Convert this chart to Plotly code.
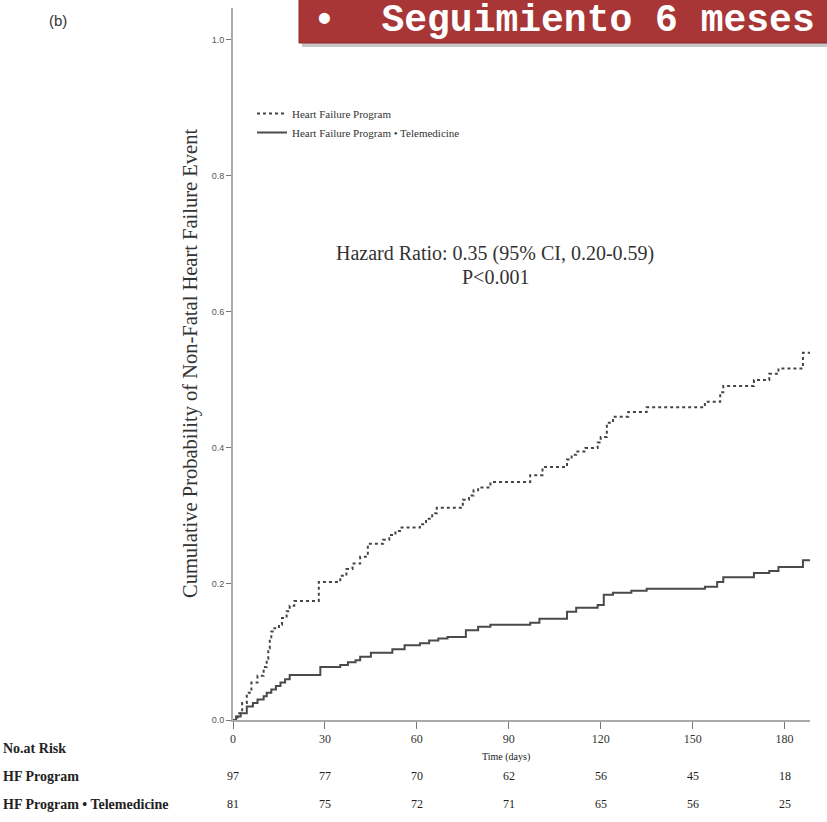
import plotly.graph_objects as go

# ---------------- data ----------------
hf_t = [0, 1.5, 3, 4.5, 6, 8, 10, 11, 11.5, 12, 12.5, 13.5, 15, 16, 17.5, 18.5, 20,
        28, 35, 37, 39, 41.5, 44, 49, 51, 53, 55, 61, 63, 65, 66.5, 75, 77, 78.5, 80,
        84, 97, 101, 109, 110.5, 112, 115, 119, 120, 122, 124, 129, 135, 154, 159,
        160, 170, 175, 178, 186, 188.5]
hf_p = [0, 0.01, 0.025, 0.04, 0.055, 0.065, 0.078, 0.09, 0.105, 0.12, 0.13, 0.135,
        0.14, 0.15, 0.16, 0.168, 0.175, 0.203, 0.212, 0.222, 0.23, 0.24, 0.259, 0.265,
        0.272, 0.278, 0.283, 0.288, 0.296, 0.304, 0.312, 0.324, 0.33, 0.338, 0.342,
        0.35, 0.36, 0.372, 0.383, 0.39, 0.395, 0.40, 0.408, 0.416, 0.437, 0.446, 0.453,
        0.46, 0.468, 0.482, 0.491, 0.50, 0.509, 0.517, 0.54, 0.54]

tm_t = [0, 1, 2.5, 4.5, 6.5, 8, 10, 11, 12.5, 14, 15.5, 17, 18.5, 28.5, 35, 37.5, 40,
        41.5, 45, 52, 56, 61, 64, 67, 70, 76, 80, 84, 97, 100, 109, 112, 119, 121, 124,
        130, 135, 154, 158, 160, 170, 175, 178, 186, 188.5]
tm_p = [0, 0.005, 0.01, 0.02, 0.025, 0.03, 0.035, 0.04, 0.045, 0.05, 0.055, 0.06,
        0.066, 0.078, 0.081, 0.085, 0.088, 0.093, 0.099, 0.104, 0.11, 0.113, 0.117,
        0.12, 0.122, 0.132, 0.137, 0.14, 0.143, 0.149, 0.159, 0.165, 0.169, 0.184,
        0.187, 0.19, 0.193, 0.196, 0.203, 0.21, 0.216, 0.219, 0.225, 0.235, 0.235]

x_ticks = [0, 30, 60, 90, 120, 150, 180]
y_ticks = [0.0, 0.2, 0.4, 0.6, 0.8, 1.0]
risk_hf = [97, 77, 70, 62, 56, 45, 18]
risk_tm = [81, 75, 72, 71, 65, 56, 25]
risk_labels = ["No.at Risk", "HF Program", "HF Program \u2022 Telemedicine"]
series_names = ["Heart Failure Program", "Heart Failure Program \u2022 Telemedicine"]

# ---------------- layout helpers ----------------
W, H = 827, 822
ML, MR, MT, MB = 233, 17, 8, 102
PW, PH = W - ML - MR, H - MT - MB


def px(x):
    return (x - ML) / PW


def py(y):
    return (H - MB - y) / PH


SERIF = "Liberation Serif, Times New Roman, serif"
SANS = "Liberation Sans, Arial, sans-serif"

fig = go.Figure()
fig.add_trace(go.Scatter(x=hf_t, y=hf_p, mode="lines", line_shape="hv",
                         name=series_names[0],
                         line=dict(color="#454545", width=2, dash="dot")))
fig.add_trace(go.Scatter(x=tm_t, y=tm_p, mode="lines", line_shape="hv",
                         name=series_names[1],
                         line=dict(color="#4a4a4a", width=2)))

annotations = []
# risk table
row_y = [748, 776, 804]
for lab, yy in zip(risk_labels, row_y):
    annotations.append(dict(xref="paper", yref="paper", x=px(1), y=py(yy),
                            text="<b>" + lab + "</b>", showarrow=False,
                            xanchor="left", yanchor="middle",
                            font=dict(family=SERIF, size=14, color="#222")))
for xv, a, b in zip(x_ticks, risk_hf, risk_tm):
    annotations.append(dict(xref="x", yref="paper", x=xv, y=py(row_y[1]),
                            text=str(a), showarrow=False, xanchor="center",
                            yanchor="middle",
                            font=dict(family=SERIF, size=12, color="#222")))
    annotations.append(dict(xref="x", yref="paper", x=xv, y=py(row_y[2]),
                            text=str(b), showarrow=False, xanchor="center",
                            yanchor="middle",
                            font=dict(family=SERIF, size=12, color="#222")))
# x title
annotations.append(dict(xref="paper", yref="paper", x=px(506), y=py(757),
                        text="Time (days)", showarrow=False, xanchor="center",
                        yanchor="middle",
                        font=dict(family=SERIF, size=10, color="#222")))
# hazard ratio
annotations.append(dict(xref="paper", yref="paper", x=px(495), y=py(253),
                        text="Hazard Ratio: 0.35 (95% CI, 0.20-0.59)",
                        showarrow=False, xanchor="center", yanchor="middle",
                        font=dict(family=SERIF, size=20, color="#333")))
annotations.append(dict(xref="paper", yref="paper", x=px(495), y=py(277),
                        text="P<0.001", showarrow=False, xanchor="center",
                        yanchor="middle",
                        font=dict(family=SERIF, size=20, color="#333")))
# y title
annotations.append(dict(xref="paper", yref="paper", x=px(190), y=py(364),
                        text="Cumulative Probability of Non-Fatal Heart Failure Event",
                        textangle=-90, showarrow=False, xanchor="center",
                        yanchor="middle",
                        font=dict(family=SERIF, size=20.5, color="#333")))
# (b)
annotations.append(dict(xref="paper", yref="paper", x=px(58), y=py(20),
                        text="(b)", showarrow=False, xanchor="center",
                        yanchor="middle",
                        font=dict(family=SANS, size=15, color="#333")))
# banner text
annotations.append(dict(xref="paper", yref="paper", x=px(311), y=py(-3),
                        text="<b>\u2022  Seguimiento 6 meses</b>", showarrow=False,
                        xanchor="left", yanchor="top",
                        font=dict(family="Liberation Mono, Courier New, monospace",
                                  size=38, color="white")))

shapes = [
    dict(type="rect", xref="paper", yref="paper", x0=px(302), x1=px(830),
         y0=py(47), y1=py(-5), fillcolor="rgba(0,0,0,0.22)", line_width=0,
         layer="above"),
    dict(type="rect", xref="paper", yref="paper", x0=px(299), x1=px(830),
         y0=py(43), y1=py(-5), fillcolor="#a83636",
         line=dict(color="#8e2a2a", width=1), layer="above"),
]

fig.update_layout(
    width=W, height=H,
    margin=dict(l=ML, r=MR, t=MT, b=MB),
    paper_bgcolor="white", plot_bgcolor="white",
    showlegend=True,
    legend=dict(x=px(252), y=py(99), xanchor="left", yanchor="top",
                bgcolor="rgba(0,0,0,0)", tracegroupgap=0,
                font=dict(family=SERIF, size=11, color="#333"),
                itemwidth=30),
    xaxis=dict(range=[0, 188.3], tickvals=x_ticks, showgrid=False, zeroline=False,
               showline=True, linecolor="#aaaaaa", linewidth=2,
               ticks="outside", ticklen=7, tickcolor="#777", tickwidth=1,
               tickfont=dict(family=SERIF, size=12, color="#333")),
    yaxis=dict(range=[0, 1.047], tickvals=y_ticks, tickformat=".1f", showgrid=False,
               zeroline=False, showline=True, linecolor="#aaaaaa", linewidth=2,
               ticks="outside", ticklen=5, tickcolor="#777", tickwidth=1,
               tickfont=dict(family=SANS, size=9, color="#555")),
    annotations=annotations,
    shapes=shapes,
)

fig.write_html("out.html")
